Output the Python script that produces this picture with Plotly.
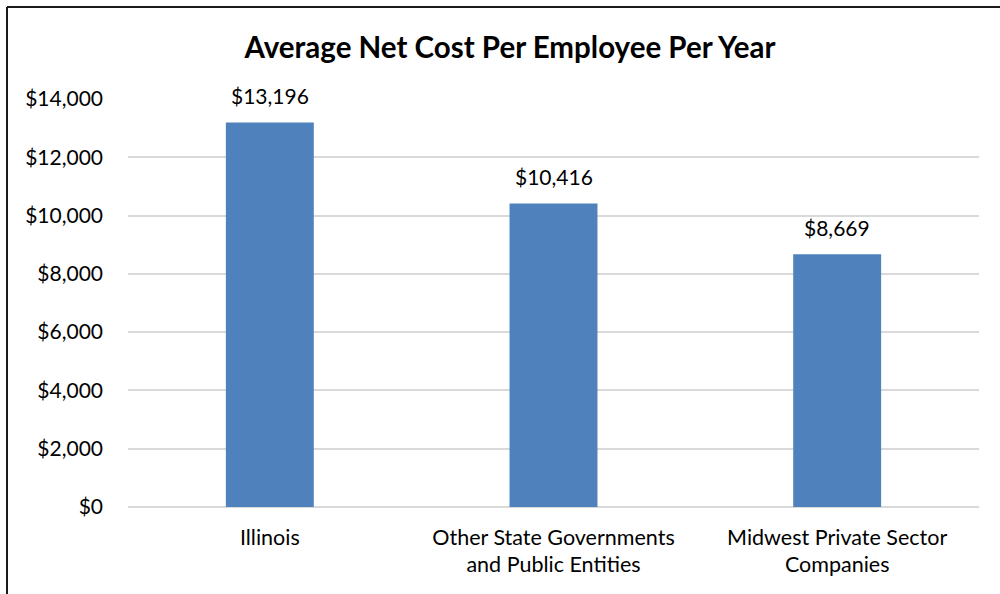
import plotly.graph_objects as go

categories = ["Illinois", "Other State Governments<br>and Public Entities", "Midwest Private Sector<br>Companies"]
values = [13196, 10416, 8669]
tick_values = [0, 2000, 4000, 6000, 8000, 10000, 12000, 14000]
tick_labels = ["$0", "$2,000", "$4,000", "$6,000", "$8,000", "$10,000", "$12,000", "$14,000"]

W, H = 1000, 594
ML, MR, MT, MB = 128, 21, 99, 87
pw, ph = W - ML - MR, H - MT - MB

def px_x(p):
    return (p - ML) / pw

def px_y(p):
    return (H - MB - p) / ph

font_family = "Lato, Open Sans, sans-serif"

fig = go.Figure(go.Bar(
    x=categories,
    y=values,
    width=0.31,
    marker=dict(color="#4F81BD", line=dict(width=0)),
    cliponaxis=False,
))

# value labels above each bar
for c, v in zip(categories, values):
    fig.add_annotation(x=c, y=v, text=f"${v:,}", showarrow=False,
                       yanchor="bottom", yshift=12,
                       font=dict(size=21, color="#000000", family=font_family))

fig.update_layout(
    width=W, height=H,
    margin=dict(l=ML, r=MR, t=MT, b=MB),
    paper_bgcolor="white",
    plot_bgcolor="white",
    showlegend=False,
    title=dict(text="<b>Average Net Cost Per Employee Per Year</b>",
               x=px_x(510), xref="paper", xanchor="center",
               y=1 - 48 / H, yref="container", yanchor="middle",
               font=dict(size=29.5, color="#000000", family=font_family)),
    font=dict(family=font_family, size=21, color="#000000"),
    xaxis=dict(showgrid=False, showline=False, ticks="", ticklabelstandoff=15,
               tickfont=dict(size=21.5)),
    yaxis=dict(range=[0, 14000], tickvals=tick_values, ticktext=tick_labels,
               showgrid=True, gridcolor="#D9D9D9", gridwidth=2,
               zeroline=True, zerolinecolor="#D9D9D9", zerolinewidth=2,
               showline=False, ticks="", ticklabelstandoff=24,
               tickfont=dict(size=21)),
    shapes=[
        dict(type="line", xref="paper", yref="paper",
             x0=px_x(7), x1=px_x(7), y0=px_y(7), y1=px_y(H + 10),
             line=dict(color="#1a1a1a", width=2)),
        dict(type="line", xref="paper", yref="paper",
             x0=px_x(7), x1=px_x(W + 10), y0=px_y(7), y1=px_y(7),
             line=dict(color="#1a1a1a", width=2)),
    ],
)

fig.write_html("out.html")
